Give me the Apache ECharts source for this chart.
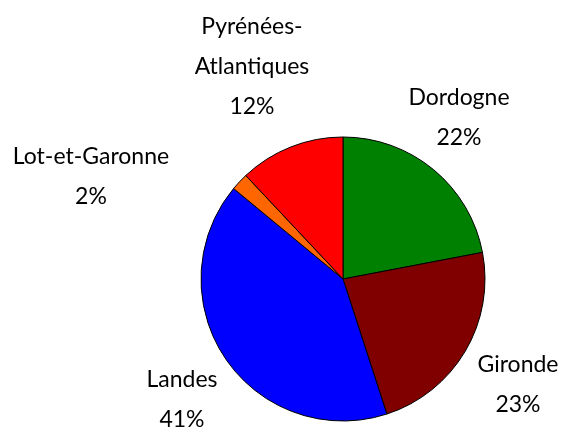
<!DOCTYPE html>
<html>
<head>
<meta charset="utf-8">
<script src="https://cdn.jsdelivr.net/npm/echarts@6/dist/echarts.min.js"></script>
<style>
  html, body { margin: 0; padding: 0; background: #fff; }
  #chart { width: 567px; height: 428px; }
</style>
</head>
<body>
<div id="chart"></div>
<script>
// départements, sens horaire depuis midi
var names = ['Dordogne', 'Gironde', 'Landes', 'Lot-et-Garonne', 'Pyrénées-\nAtlantiques'];
var shares = [22, 23, 41, 2, 12];
var colors = ['#008000', '#800000', '#0000ff', '#ff6600', '#ff0000'];

// position des étiquettes (centre du texte)
var labelPos = [[459, 118], [518, 385], [182, 400], [91, 177], [252, 67]];

var chart = echarts.init(document.getElementById('chart'));
chart.setOption({
    animation: false,
    series: [{
        type: 'pie',
        center: [343, 279],
        radius: 142,
        startAngle: 90,
        clockwise: true,
        data: names.map(function (n, i) {
            return { name: n, value: shares[i], itemStyle: { color: colors[i] } };
        }),
        itemStyle: {
            borderColor: '#000',
            borderWidth: 1
        },
        label: {
            show: true,
            position: 'outside',
            formatter: function (p) {
                return p.name + '\n' + Math.round(p.percent) + '%';
            },
            color: '#000',
            fontFamily: 'Lato',
            fontSize: 23,
            lineHeight: 40,
            align: 'center',
            overflow: 'none'
        },
        labelLine: { show: false },
        labelLayout: function (p) {
            var pos = labelPos[p.dataIndex];
            return { x: pos[0], y: pos[1], align: 'center', verticalAlign: 'middle' };
        },
        emphasis: { disabled: true }
    }]
});
</script>
</body>
</html>
